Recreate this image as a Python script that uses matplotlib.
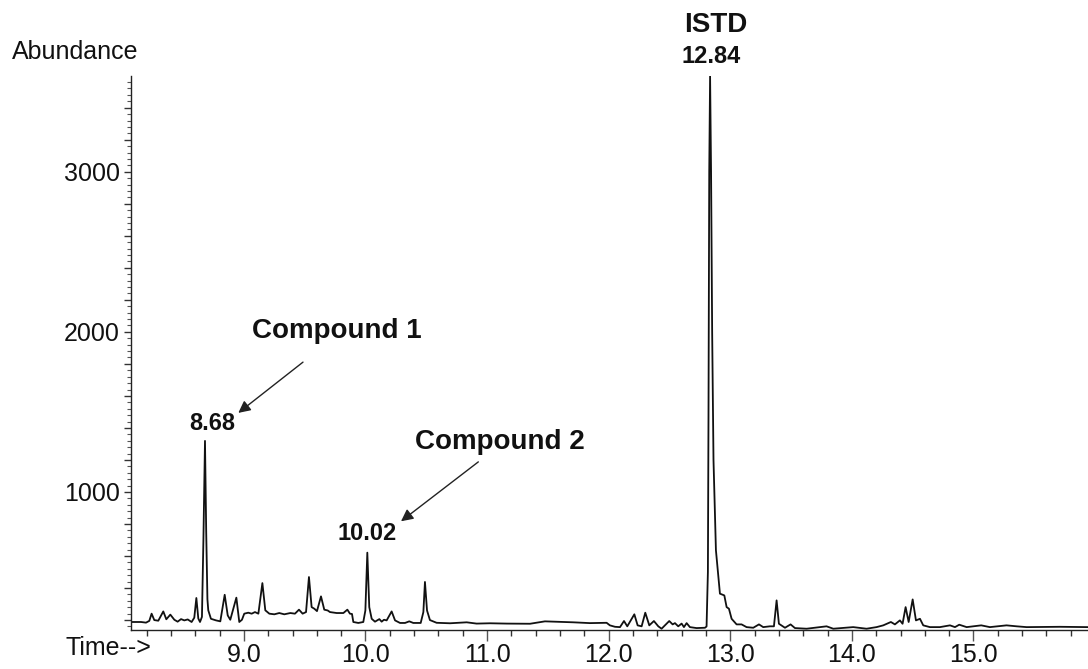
#!/usr/bin/env python

"""Total ion chromatogram with the two compounds and the internal standard."""

import matplotlib as mpl
mpl.use('Agg')  # Use a non-interactive backend
from matplotlib import pyplot as plt
from matplotlib.ticker import MultipleLocator, FuncFormatter


# Trace: retention time [min] and abundance
time = [
    8.072, 8.154, 8.195, 8.222, 8.241, 8.263, 8.296, 8.337, 8.362, 8.395,
    8.428, 8.455, 8.483, 8.510, 8.538, 8.570, 8.592, 8.609, 8.625, 8.639,
    8.655, 8.667, 8.680, 8.690, 8.700, 8.707, 8.729, 8.771, 8.806, 8.842,
    8.867, 8.888, 8.938, 8.962, 8.984, 9.003, 9.036, 9.064, 9.091, 9.119,
    9.152, 9.176, 9.209, 9.250, 9.291, 9.332, 9.382, 9.420, 9.453, 9.483,
    9.511, 9.535, 9.557, 9.579, 9.601, 9.634, 9.661, 9.689, 9.708, 9.763,
    9.818, 9.851, 9.872, 9.889, 9.900, 9.941, 9.982, 9.999, 10.015, 10.031,
    10.051, 10.078, 10.114, 10.133, 10.152, 10.174, 10.215, 10.243, 10.284, 10.325,
    10.360, 10.393, 10.454, 10.476, 10.489, 10.506, 10.530, 10.585, 10.695, 10.832,
    10.914, 11.024, 11.161, 11.353, 11.476, 11.709, 11.846, 11.983, 12.010, 12.052,
    12.093, 12.126, 12.153, 12.211, 12.238, 12.271, 12.301, 12.334, 12.372, 12.408,
    12.435, 12.463, 12.498, 12.526, 12.545, 12.572, 12.600, 12.619, 12.641, 12.668,
    12.723, 12.792, 12.805, 12.816, 12.821, 12.827, 12.834, 12.842, 12.851, 12.862,
    12.882, 12.915, 12.951, 12.970, 12.989, 13.011, 13.052, 13.093, 13.134, 13.189,
    13.236, 13.271, 13.326, 13.359, 13.381, 13.400, 13.450, 13.496, 13.532, 13.628,
    13.792, 13.847, 14.011, 14.121, 14.203, 14.258, 14.321, 14.354, 14.395, 14.417,
    14.442, 14.467, 14.500, 14.527, 14.560, 14.587, 14.642, 14.724, 14.807, 14.848,
    14.883, 14.944, 15.064, 15.135, 15.272, 15.355, 15.437, 15.711, 15.941,
]
abundance = [
    188, 188, 184, 195, 240, 200, 196, 254, 205, 234,
    202, 190, 206, 198, 204, 188, 215, 338, 210, 188,
    220, 700, 1319, 750, 330, 261, 208, 198, 192, 358,
    229, 202, 340, 188, 202, 240, 246, 240, 250, 240,
    431, 261, 240, 236, 244, 236, 244, 240, 265, 240,
    250, 469, 281, 271, 256, 348, 265, 260, 250, 244,
    244, 265, 240, 238, 188, 182, 188, 260, 621, 281,
    208, 190, 206, 190, 202, 198, 254, 198, 182, 182,
    192, 182, 182, 250, 438, 260, 200, 183, 180, 186,
    178, 180, 178, 177, 192, 186, 181, 183, 167, 158,
    156, 194, 161, 236, 167, 161, 246, 167, 194, 161,
    146, 167, 194, 173, 181, 161, 178, 156, 181, 156,
    150, 152, 160, 500, 1500, 3000, 3598, 3000, 2000, 1200,
    636, 365, 354, 281, 271, 208, 173, 173, 156, 152,
    173, 156, 161, 161, 323, 177, 152, 173, 150, 146,
    161, 146, 156, 146, 156, 167, 188, 173, 198, 177,
    281, 188, 329, 198, 208, 167, 156, 156, 167, 156,
    171, 156, 167, 156, 167, 161, 156, 158, 156,
]

# Labelled peaks: (text, x, y, font size) and arrows from the name to the time
peak_labels = [
    ('ISTD', 12.880, 3917, 20),
    ('12.84', 12.844, 3717, 17),
    ('Compound 1', 9.766, 2004, 20),
    ('8.68', 8.743, 1429, 17),
    ('Compound 2', 11.102, 1312, 20),
    ('10.02', 10.012, 742, 17),
]
arrows = [
    ((9.486, 1811), (8.954, 1494)),
    ((10.928, 1188), (10.292, 817)),
]


plt.rcParams['font.family'] = ['Liberation Sans', 'DejaVu Sans']

fig = plt.figure(figsize=(10.88, 6.69), dpi=100)
ax = fig.add_axes([131 / 1088, 1 - 630 / 669, 1 - 131 / 1088, (630 - 76) / 669])

ax.plot(time, abundance, color='#111111', lw=1.3)

ax.set_xlim(8.0715, 15.942)
ax.set_ylim(138, 3598)

# Axes styling like the ChemStation printout
for side in ['top', 'right']:
    ax.spines[side].set_visible(False)
for side in ['left', 'bottom']:
    ax.spines[side].set_color('#222222')
    ax.spines[side].set_linewidth(1.0)

ax.xaxis.set_major_locator(MultipleLocator(1.0))
ax.xaxis.set_minor_locator(MultipleLocator(0.2))
ax.xaxis.set_major_formatter(FuncFormatter(lambda v, pos: '{:.1f}'.format(v)))
ax.yaxis.set_major_locator(MultipleLocator(200))
ax.yaxis.set_minor_locator(MultipleLocator(40))
ax.yaxis.set_major_formatter(
    FuncFormatter(lambda v, pos: '{:d}'.format(int(round(v))) if round(v) % 1000 == 0 else '')
)

ax.tick_params(axis='x', which='major', direction='out', length=8, width=1.0,
               color='#555555', labelsize=18, pad=1, labelcolor='#111111')
ax.tick_params(axis='x', which='minor', direction='out', length=4, width=1.0, color='#333333')
ax.tick_params(axis='y', which='major', direction='out', length=5, width=1.0,
               color='#333333', labelsize=18, pad=3, labelcolor='#111111')
ax.tick_params(axis='y', which='minor', direction='out', length=3, width=0.8, color='#555555')

fig.text(12 / 1088, 1 - 52 / 669, 'Abundance', fontsize=18, ha='left', va='center', color='#111111')
fig.text(65 / 1088, 1 - 648 / 669, 'Time-->', fontsize=18, ha='left', va='center', color='#111111')

for text, x, y, size in peak_labels:
    ax.text(x, y, text, fontsize=size, fontweight='bold', ha='center', va='center',
            color='#111111', clip_on=False)

for tail, head in arrows:
    ax.annotate('', xy=head, xytext=tail, annotation_clip=False,
                arrowprops=dict(arrowstyle='-|>', color='#222222', lw=1.0,
                                mutation_scale=18, shrinkA=0, shrinkB=0))

fig.savefig('out.png', dpi=100)
plt.close(fig)
